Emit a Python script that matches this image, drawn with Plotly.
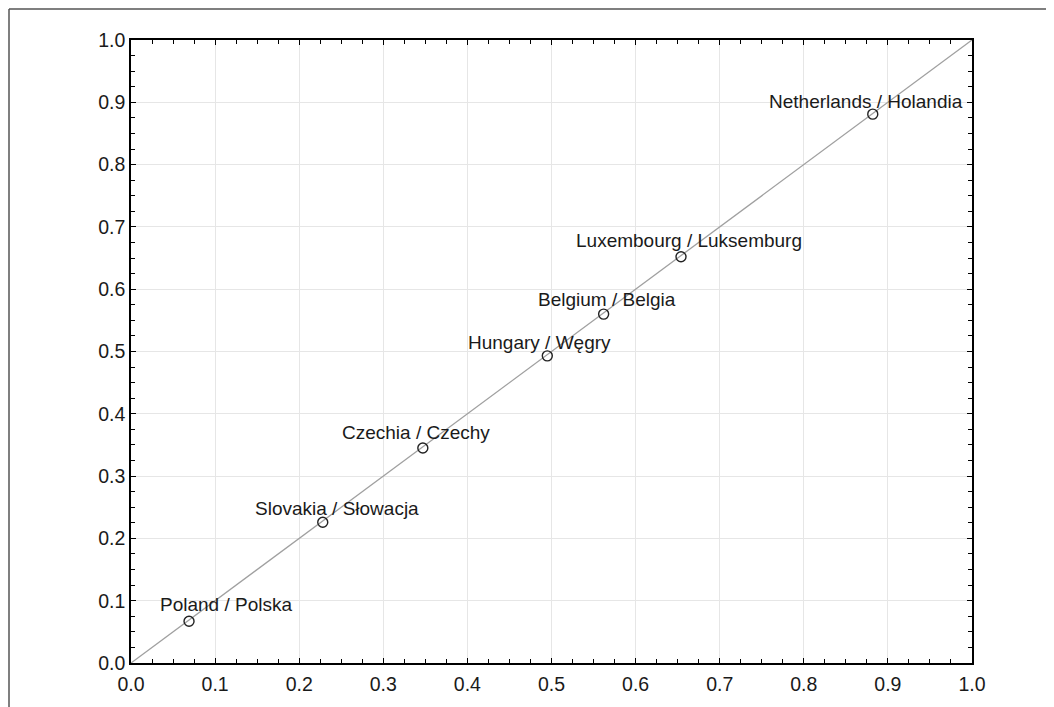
import plotly.graph_objects as go

countries = ["Poland / Polska", "Slovakia / Słowacja", "Czechia / Czechy",
             "Hungary / Węgry", "Belgium / Belgia", "Luxembourg / Luksemburg",
             "Netherlands / Holandia"]
x_vals = [0.069, 0.228, 0.347, 0.495, 0.562, 0.654, 0.882]
y_vals = [0.067, 0.226, 0.345, 0.493, 0.560, 0.652, 0.881]
tick_vals = [0.0, 0.1, 0.2, 0.3, 0.4, 0.5, 0.6, 0.7, 0.8, 0.9, 1.0]
tick_text = [f"{v:.1f}" for v in tick_vals]
diag = [0.0, 1.0]

label_xshift = [37, 14, -7, -8, 3, 8, -7]
label_yshift = [17, 14, 16, 13, 15, 16, 13]

FONT = "Liberation Sans, Arial, sans-serif"
ML, MR, MT, MB = 123, 82, 32, 44
W, H = 1046, 699
PW, PH = W - ML - MR, H - MT - MB

fig = go.Figure()
fig.add_trace(go.Scatter(x=diag, y=diag, mode="lines",
                         line=dict(color="#a0a0a0", width=1.3),
                         hoverinfo="skip", showlegend=False))
fig.add_trace(go.Scatter(x=x_vals, y=y_vals, mode="markers",
                         marker=dict(symbol="circle-open", size=10,
                                     color="#222222", line=dict(width=1.4)),
                         text=countries, showlegend=False))

for name, xv, yv, dx, dy in zip(countries, x_vals, y_vals, label_xshift, label_yshift):
    fig.add_annotation(x=xv, y=yv, text=name, showarrow=False,
                       xshift=dx, yshift=dy, xanchor="center", yanchor="middle",
                       font=dict(family=FONT, size=19, color="#1a1a1a"))

axis_common = dict(
    range=[0, 1], tickvals=tick_vals, ticktext=tick_text,
    showline=True, linecolor="black", linewidth=1.5, mirror="allticks",
    ticks="inside", ticklen=5, tickcolor="black", tickwidth=1.2,
    showgrid=True, gridcolor="#e6e6e6", gridwidth=1, zeroline=False,
    tickfont=dict(family=FONT, size=19.5, color="#1a1a1a"),
    minor=dict(dtick=0.025, ticks="inside", ticklen=4, tickcolor="black",
               showgrid=False),
)

fig.update_layout(
    width=W, height=H,
    margin=dict(l=ML, r=MR, t=MT, b=MB),
    paper_bgcolor="white", plot_bgcolor="white",
    xaxis=dict(**axis_common, ticklabelstandoff=3),
    yaxis=dict(**axis_common),
)

fx0 = (1 - ML) / PW
fy1 = 1 + (MT - 1) / PH
frame = dict(color="#555555", width=1.5)
fig.add_shape(type="line", xref="paper", yref="paper",
              x0=fx0, x1=1.3, y0=fy1, y1=fy1, line=frame, layer="below")
fig.add_shape(type="line", xref="paper", yref="paper",
              x0=fx0, x1=fx0, y0=-0.2, y1=fy1, line=frame, layer="below")

fig.write_html("out.html")
